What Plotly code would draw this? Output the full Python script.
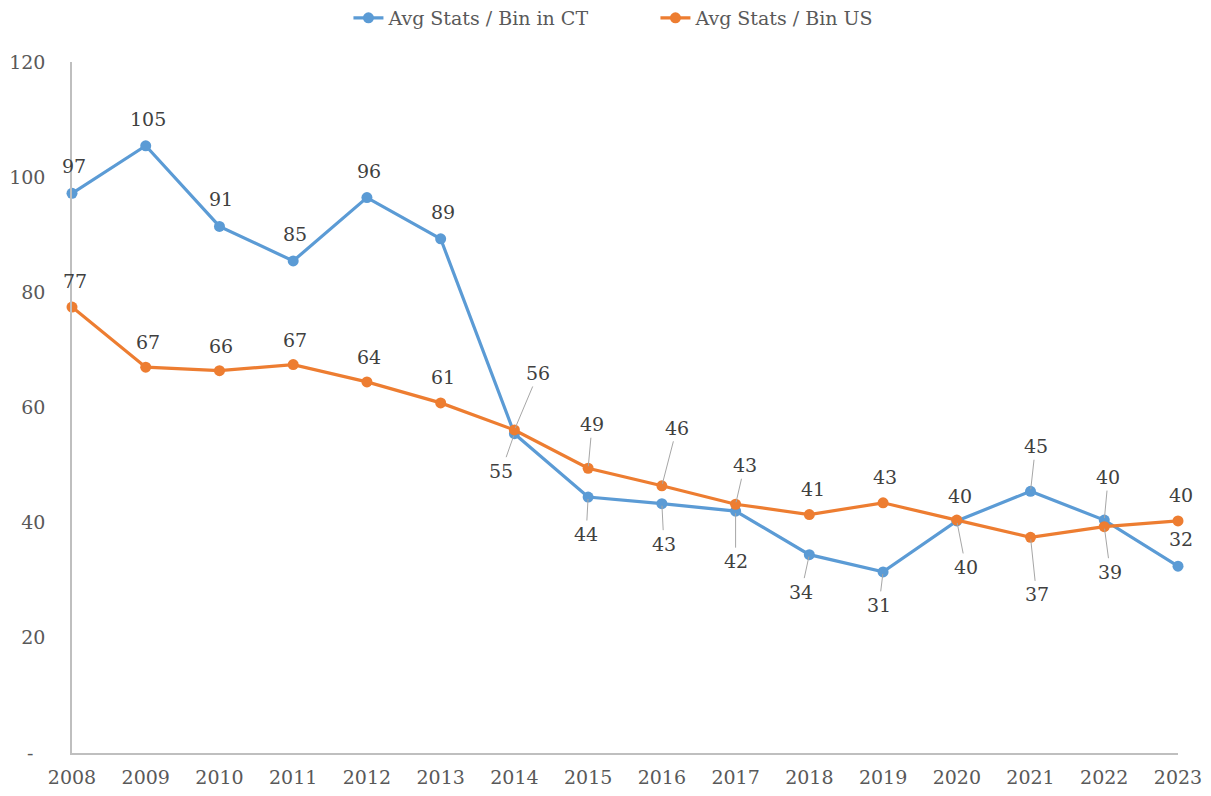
import plotly.graph_objects as go

years = list(range(2008, 2024))
ct_values = [97.2, 105.45, 91.45, 85.45, 96.45, 89.3, 55.45, 44.45, 43.3, 42.0,
             34.45, 31.45, 40.3, 45.45, 40.45, 32.45]
us_values = [77.45, 67.0, 66.4, 67.45, 64.45, 60.8, 56.1, 49.45, 46.4, 43.2,
             41.4, 43.45, 40.45, 37.45, 39.3, 40.3]
series_names = ["Avg Stats / Bin in CT", "Avg Stats / Bin US"]
y_ticks = [0, 20, 40, 60, 80, 100, 120]
y_tick_text = ["-\u00a0\u00a0", "20", "40", "60", "80", "100", "120"]

BLUE = "#5B9BD5"
ORANGE = "#ED7D31"
FONT = "DejaVu Serif"

# label placement (dx, dy in pixels from the point, leader line flag)
ct_label_pos = [(2, -27, False), (2, -27, False), (2, -27, False), (2, -27, False),
                (2, -27, False), (2, -27, False), (-13, 37, True), (-2, 37, True),
                (2, 40, True), (0, 50, True), (-8, 37, True), (-4, 33, True),
                (9, 46, True), (5, -45, True), (4, -43, True), (3, -27, False)]
us_label_pos = [(3, -26, False), (2, -25, False), (2, -25, False), (2, -25, False),
                (2, -25, False), (2, -26, False), (24, -57, True), (4, -44, True),
                (15, -58, True), (9, -39, True), (4, -26, False), (2, -26, False),
                (3, -24, False), (6, 57, True), (6, 45, True), (3, -26, False)]

fig = go.Figure()
for name, vals, col in [(series_names[0], ct_values, BLUE), (series_names[1], us_values, ORANGE)]:
    fig.add_trace(go.Scatter(
        x=years, y=vals, name=name, mode="lines+markers",
        line=dict(color=col, width=3.2),
        marker=dict(color=col, size=11),
        cliponaxis=False,
    ))

annotations = []
for vals, pos in [(ct_values, ct_label_pos), (us_values, us_label_pos)]:
    for yr, v, (dx, dy, leader) in zip(years, vals, pos):
        txt = f"{v:.0f}"
        if leader:
            annotations.append(dict(
                x=yr, y=v, text=txt, showarrow=True, ax=dx, ay=dy,
                arrowhead=0, arrowwidth=1, arrowcolor="#A6A6A6", standoff=2,
                borderpad=2,
                font=dict(family=FONT, size=19, color="#404040"),
            ))
        else:
            annotations.append(dict(
                x=yr, y=v, text=txt, showarrow=False, xshift=dx, yshift=-dy,
                font=dict(family=FONT, size=19, color="#404040"),
            ))

# page body has an 8px margin, so the figure is sized/offset to compensate
fig.update_layout(
    width=1203, height=788,
    margin=dict(l=64, r=33, t=54, b=43, autoexpand=False),
    paper_bgcolor="white", plot_bgcolor="white",
    font=dict(family=FONT, color="#595959", size=19),
    showlegend=True,
    legend=dict(orientation="h", xref="container", yref="paper",
                x=0.283, xanchor="left", y=1.0637, yanchor="middle",
                font=dict(family=FONT, size=19, color="#595959"),
                entrywidth=262, entrywidthmode="pixels",
                bgcolor="rgba(0,0,0,0)"),
    annotations=annotations,
)
fig.update_xaxes(
    range=[2008, 2023], tickmode="array", tickvals=years, automargin=False,
    showgrid=False, zeroline=False, showline=True, linecolor="#BFBFBF", linewidth=1.5,
    ticks="", ticklabelstandoff=6,
    tickfont=dict(family=FONT, size=19, color="#595959"),
)
fig.update_yaxes(
    range=[0, 120], tickmode="array", tickvals=y_ticks, ticktext=y_tick_text, automargin=False,
    showgrid=False, zeroline=False, showline=True, linecolor="#BFBFBF", linewidth=1.5,
    ticks="", ticklabelstandoff=21,
    tickfont=dict(family=FONT, size=19, color="#595959"),
)

fig.write_html("out.html")
